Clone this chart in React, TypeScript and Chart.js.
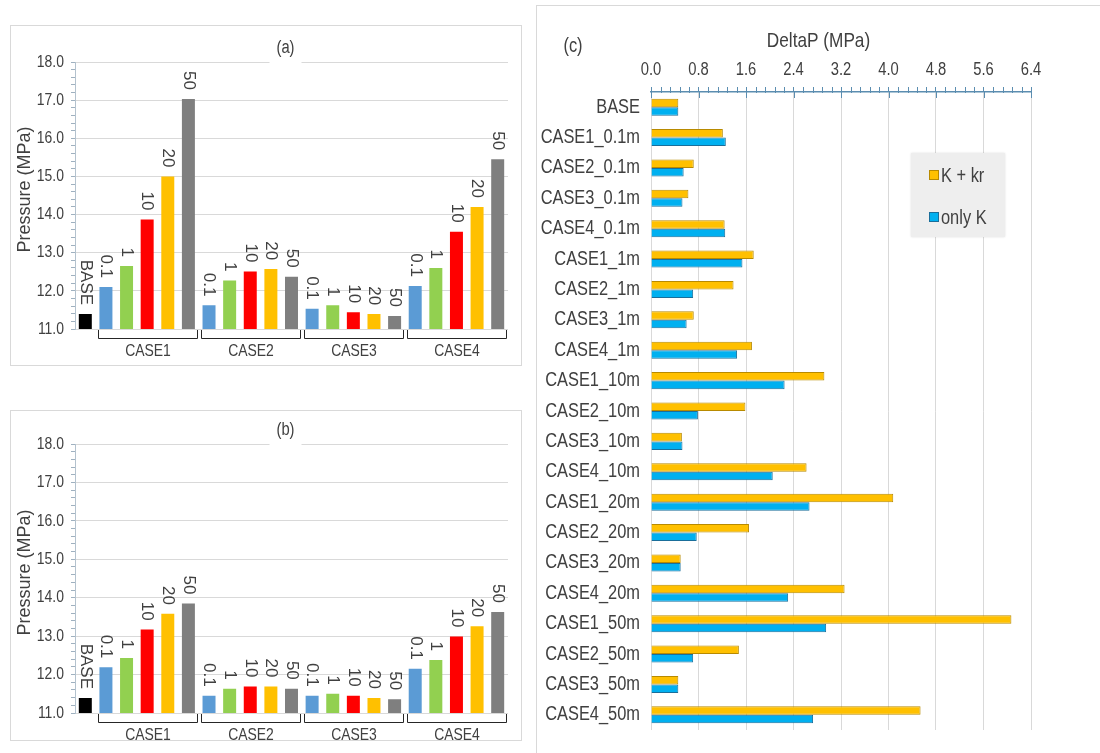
import React, { useEffect, useRef } from "react";
import { Chart, registerables } from "chart.js";

Chart.register(...registerables);

const FONT = "'Liberation Sans', Arial, sans-serif";
const TEXT = "#404040";
const SQUEEZE = 0.82; // the reference lettering is horizontally condensed

// ---------- data for panels (a) and (b) ----------
const pressureCategories = [
  "BASE",
  "CASE1-0.1", "CASE1-1", "CASE1-10", "CASE1-20", "CASE1-50",
  "CASE2-0.1", "CASE2-1", "CASE2-10", "CASE2-20", "CASE2-50",
  "CASE3-0.1", "CASE3-1", "CASE3-10", "CASE3-20", "CASE3-50",
  "CASE4-0.1", "CASE4-1", "CASE4-10", "CASE4-20", "CASE4-50",
];
const barTextLabels = [
  "BASE",
  "0.1", "1", "10", "20", "50",
  "0.1", "1", "10", "20", "50",
  "0.1", "1", "10", "20", "50",
  "0.1", "1", "10", "20", "50",
];
const caseGroups = ["CASE1", "CASE2", "CASE3", "CASE4"];
const groupSize = 5;

const pressureA = [
  11.39,
  12.10, 12.65, 13.87, 15.0, 17.03,
  11.62, 12.27, 12.51, 12.57, 12.37,
  11.53, 11.62, 11.44, 11.39, 11.34,
  12.13, 12.6, 13.55, 14.2, 15.45,
];
const pressureB = [
  11.39,
  12.19, 12.43, 13.17, 13.58, 13.85,
  11.45, 11.63, 11.69, 11.69, 11.63,
  11.45, 11.5, 11.45, 11.39, 11.36,
  12.15, 12.38, 12.99, 13.26, 13.63,
];
const pressureMin = 11;
const pressureMax = 18;
const pressureMinorStep = 0.2;
const pressureAxisTitle = "Pressure (MPa)";

// ---------- data for panel (c) ----------
const deltaCategories = [
  "BASE",
  "CASE1_0.1m", "CASE2_0.1m", "CASE3_0.1m", "CASE4_0.1m",
  "CASE1_1m", "CASE2_1m", "CASE3_1m", "CASE4_1m",
  "CASE1_10m", "CASE2_10m", "CASE3_10m", "CASE4_10m",
  "CASE1_20m", "CASE2_20m", "CASE3_20m", "CASE4_20m",
  "CASE1_50m", "CASE2_50m", "CASE3_50m", "CASE4_50m",
];
const deltaKkr = [
  0.46,
  1.21, 0.72, 0.63, 1.24,
  1.73, 1.39, 0.72, 1.70,
  2.92, 1.59, 0.52, 2.62,
  4.08, 1.65, 0.50, 3.26,
  6.07, 1.48, 0.46, 4.54,
];
const deltaOnlyK = [
  0.46,
  1.26, 0.55, 0.53, 1.25,
  1.54, 0.71, 0.60, 1.45,
  2.25, 0.79, 0.53, 2.05,
  2.67, 0.77, 0.50, 2.31,
  2.95, 0.71, 0.46, 2.73,
];
const deltaSeriesNames = ["K + kr", "only K"];
const deltaAxisTitle = "DeltaP (MPa)";
const deltaMin = 0;
const deltaMax = 6.4;
const deltaStep = 0.8;

// ---------- styles ----------
const baseColor = "#000000";
const widthColors = ["#5b9bd5", "#92d050", "#ff0000", "#ffc000", "#7f7f7f"];
const kkrFill = "#ffc000";
const kkrBorder = "#b88a00";
const onlyKFill = "#00b0f0";
const onlyKBorder = "#1a6e9a";

function barColor(i: number) {
  return i === 0 ? baseColor : widthColors[(i - 1) % groupSize];
}

function drawText(
  ctx: CanvasRenderingContext2D,
  text: string,
  x: number,
  y: number,
  size: number,
  align: CanvasTextAlign,
  opts: { rotate?: number; squeeze?: number; baseline?: CanvasTextBaseline } = {}
) {
  ctx.save();
  ctx.font = `${size}px ${FONT}`;
  ctx.fillStyle = TEXT;
  ctx.translate(x, y);
  if (opts.rotate) ctx.rotate(opts.rotate);
  ctx.scale(opts.squeeze ?? SQUEEZE, 1);
  ctx.textAlign = align;
  ctx.textBaseline = opts.baseline ?? "middle";
  ctx.fillText(text, 0, 0);
  ctx.restore();
}

function PressurePanel(props: {
  values: number[];
  title: string;
  top: number;
  height: number;
  padTop: number;
  padBottom: number;
}) {
  const ref = useRef<HTMLCanvasElement>(null);
  useEffect(() => {
    const title = props.title;
    const isMajor = (v: number) => Math.abs(v - Math.round(v)) < 1e-6;
    const decor = {
      id: "pressureDecor",
      afterDraw(chart: any) {
        const { ctx, chartArea } = chart;
        const xs = chart.scales.x;
        const ys = chart.scales.y;
        const meta = chart.getDatasetMeta(0);
        // y tick labels
        ys.ticks.forEach((t: any) => {
          if (!isMajor(t.value)) return;
          drawText(ctx, Number(t.value).toFixed(1), chartArea.left - 11, ys.getPixelForValue(t.value), 17, "right");
        });
        // y axis title
        drawText(ctx, pressureAxisTitle, 14, (chartArea.top + chartArea.bottom) / 2 - 6, 18, "center", {
          rotate: -Math.PI / 2,
          squeeze: 1,
        });
        // rotated value labels
        meta.data.forEach((bar: any, i: number) => {
          const p = bar.getProps(["x", "y"], true);
          drawText(ctx, barTextLabels[i], p.x, p.y - 9, 17, "right", { rotate: Math.PI / 2, squeeze: 1 });
        });
        // group brackets and labels
        const step = xs.getPixelForValue(1) - xs.getPixelForValue(0);
        ctx.save();
        ctx.strokeStyle = "#262626";
        ctx.lineWidth = 1;
        caseGroups.forEach((name, g) => {
          const first = 1 + g * groupSize;
          const last = first + groupSize - 1;
          const l = Math.round(xs.getPixelForValue(first) - step / 2 + 2) + 0.5;
          const r = Math.round(xs.getPixelForValue(last) + step / 2 - 2) + 0.5;
          const y0 = Math.round(chartArea.bottom) + 1;
          const y1 = Math.round(chartArea.bottom) + 9.5;
          ctx.beginPath();
          ctx.moveTo(l, y0);
          ctx.lineTo(l, y1);
          ctx.lineTo(r, y1);
          ctx.lineTo(r, y0);
          ctx.stroke();
          drawText(ctx, name, (l + r) / 2, chartArea.bottom + 22, 17, "center");
        });
        ctx.restore();
        // title with white backing (breaks the top gridline)
        const cx = (chartArea.left + chartArea.right) / 2 - 6;
        ctx.save();
        ctx.fillStyle = "#ffffff";
        ctx.fillRect(cx - 16, chartArea.top - 20, 32, 21);
        ctx.restore();
        drawText(ctx, title, cx, chartArea.top - 14, 18, "center");
      },
    };

    const chart = new Chart(ref.current as HTMLCanvasElement, {
      type: "bar",
      data: {
        labels: pressureCategories,
        datasets: [
          {
            data: props.values,
            backgroundColor: props.values.map((_, i) => barColor(i)),
            barPercentage: 0.63,
            categoryPercentage: 1,
          },
        ],
      },
      options: {
        animation: false,
        responsive: false,
        layout: { padding: { left: 0, right: 13, top: props.padTop, bottom: props.padBottom } },
        plugins: { legend: { display: false }, tooltip: { enabled: false } },
        scales: {
          x: { display: false },
          y: {
            min: pressureMin,
            max: pressureMax,
            afterFit: (s: any) => {
              s.width = 64;
            },
            ticks: {
              display: false,
              stepSize: pressureMinorStep,
              autoSkip: false,
            },
            grid: {
              color: (c: any) => (c.tick && isMajor(c.tick.value) ? "#d9d9d9" : "rgba(0,0,0,0)"),
              tickColor: "#9fb1c0",
              tickLength: 4,
              drawTicks: true,
            },
            border: { display: true, color: "#b4c2ce" },
          },
        },
      },
      plugins: [decor],
    } as any);
    return () => chart.destroy();
  }, []);
  return (
    <div
      style={{
        position: "absolute",
        left: 10,
        top: props.top,
        width: 512,
        height: props.height,
        border: "1px solid #d9d9d9",
        boxSizing: "border-box",
        background: "#fff",
      }}
    >
      <canvas ref={ref} width={510} height={props.height - 2} style={{ display: "block" }} />
    </div>
  );
}

function DeltaPanel() {
  const ref = useRef<HTMLCanvasElement>(null);
  useEffect(() => {
    const decor = {
      id: "deltaDecor",
      afterDraw(chart: any) {
        const { ctx, chartArea, width } = chart;
        const xs = chart.scales.x;
        const ys = chart.scales.y;
        // minor / crossing ticks
        ctx.save();
        ctx.strokeStyle = "#5b8db0";
        ctx.lineWidth = 1;
        const minor = deltaStep / 5;
        const n = Math.round((deltaMax - deltaMin) / minor);
        const top = Math.round(chartArea.top);
        for (let k = 0; k <= n; k++) {
          const px = Math.round(xs.getPixelForValue(deltaMin + k * minor)) + 0.5;
          const major = k % 5 === 0;
          ctx.beginPath();
          ctx.moveTo(px, top - (major ? 0 : 5));
          ctx.lineTo(px, top + (major ? 6 : 1));
          ctx.stroke();
        }
        ctx.restore();
        // x tick labels
        xs.ticks.forEach((t: any) => {
          drawText(ctx, Number(t.value).toFixed(1), xs.getPixelForValue(t.value), chartArea.top - 22, 18, "center");
        });
        // category labels
        deltaCategories.forEach((name, i) => {
          drawText(ctx, name, chartArea.left - 11, ys.getPixelForValue(i), 20, "right");
        });
        drawText(ctx, deltaAxisTitle, width / 2, 35, 21, "center");
        drawText(ctx, "(c)", 36, 40, 20, "center");
      },
    };
    const chart = new Chart(ref.current as HTMLCanvasElement, {
      type: "bar",
      data: {
        labels: deltaCategories,
        datasets: [
          {
            label: deltaSeriesNames[0],
            data: deltaKkr,
            backgroundColor: kkrFill,
            borderColor: kkrBorder,
            borderWidth: 1,
            barPercentage: 1,
            categoryPercentage: 0.56,
          },
          {
            label: deltaSeriesNames[1],
            data: deltaOnlyK,
            backgroundColor: onlyKFill,
            borderColor: onlyKBorder,
            borderWidth: 1,
            barPercentage: 1,
            categoryPercentage: 0.56,
          },
        ],
      },
      options: {
        indexAxis: "y",
        animation: false,
        responsive: false,
        layout: { padding: { left: 0, right: 69, top: 0, bottom: 23 } },
        plugins: { legend: { display: false }, tooltip: { enabled: false } },
        scales: {
          x: {
            position: "top",
            min: deltaMin,
            max: deltaMax,
            afterFit: (s: any) => {
              s.height = 86;
            },
            ticks: { display: false, stepSize: deltaStep },
            grid: { color: "#d9d9d9", tickColor: "#5b8db0", tickLength: 5 },
            border: { display: true, color: "#5b8db0", width: 1.5 },
          },
          y: {
            afterFit: (s: any) => {
              s.width = 114;
            },
            grid: { display: false },
            border: { display: false },
            ticks: { display: false, autoSkip: false },
          },
        },
      },
      plugins: [decor],
    } as any);
    return () => chart.destroy();
  }, []);
  return (
    <div
      style={{
        position: "absolute",
        left: 536,
        top: 5,
        width: 580,
        height: 760,
        borderLeft: "1px solid #d9d9d9",
        borderTop: "1px solid #d9d9d9",
        boxSizing: "border-box",
        background: "#fff",
      }}
    >
      <canvas ref={ref} width={563} height={747} style={{ display: "block" }} />
      <div
        style={{
          position: "absolute",
          left: 374,
          top: 147,
          width: 94,
          height: 84,
          background: "#eeeeee",
          boxShadow: "0 0 2px rgba(0,0,0,0.12)",
          fontFamily: FONT,
          fontSize: 20,
          color: TEXT,
        }}
      >
        {deltaSeriesNames.map((name, i) => (
          <div
            key={name}
            style={{
              position: "absolute",
              left: 18,
              top: i === 0 ? 10 : 52,
              height: 24,
              display: "flex",
              alignItems: "center",
              whiteSpace: "nowrap",
            }}
          >
            <span
              style={{
                display: "inline-block",
                width: 8,
                height: 8,
                background: i === 0 ? kkrFill : onlyKFill,
                border: `1px solid ${i === 0 ? kkrBorder : onlyKBorder}`,
                marginRight: 2,
              }}
            />
            <span style={{ display: "inline-block", transform: `scaleX(${SQUEEZE})`, transformOrigin: "left center" }}>
              {name}
            </span>
          </div>
        ))}
      </div>
    </div>
  );
}

export default function App() {
  return (
    <div
      style={{
        position: "absolute",
        left: 0,
        top: 0,
        width: 1100,
        height: 753,
        overflow: "hidden",
        background: "#ffffff",
      }}
    >
      <PressurePanel values={pressureA} title="(a)" top={25} height={341} padTop={36} padBottom={36} />
      <PressurePanel values={pressureB} title="(b)" top={410} height={331} padTop={33} padBottom={27} />
      <DeltaPanel />
    </div>
  );
}
